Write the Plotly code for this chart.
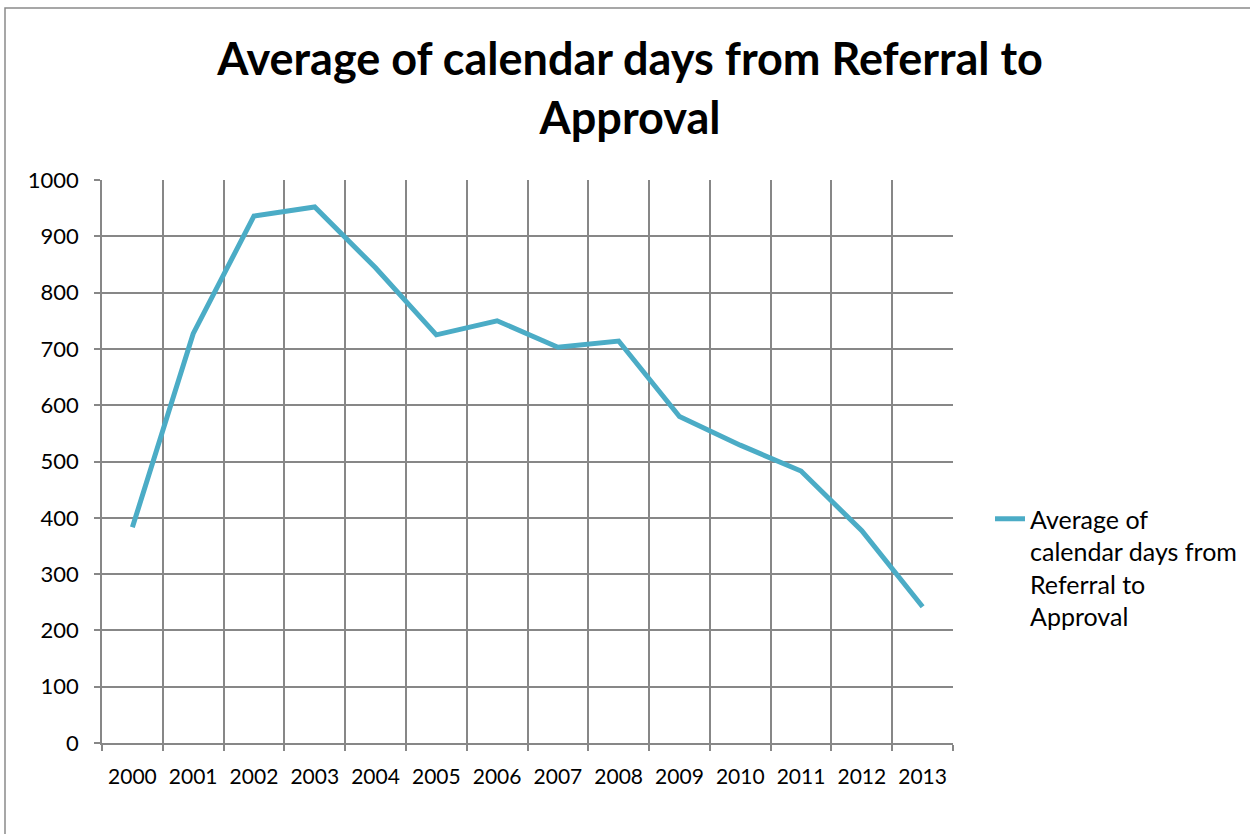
import plotly.graph_objects as go

years = ["2000", "2001", "2002", "2003", "2004", "2005", "2006", "2007",
         "2008", "2009", "2010", "2011", "2012", "2013"]
avg_days = [383, 727, 936, 952, 844, 725, 750, 703, 714, 580, 529, 483, 377, 242]
series_name = "Average of<br>calendar days from<br>Referral to<br>Approval"
title_text = "Average of calendar days from Referral to<br>Approval"

FONT = "Lato, Open Sans, sans-serif"
GRID = "#878787"

fig = go.Figure()
fig.add_trace(go.Scatter(
    x=years, y=avg_days, mode="lines", name=series_name,
    line=dict(color="#4BACC6", width=5), showlegend=True,
))

fig.update_layout(
    width=1250, height=834,
    margin=dict(l=102, r=297, t=180, b=91, autoexpand=False),
    paper_bgcolor="white", plot_bgcolor="white",
    font=dict(family=FONT, size=21, color="black"),
    title=dict(text=title_text, x=0.504, xanchor="center", y=0.91, yanchor="top",
               font=dict(family=FONT, size=45, color="black", weight="bold")),
    showlegend=True,
    legend=dict(x=1.0435, xanchor="left", y=0.4387, yanchor="top", valign="top",
                font=dict(family=FONT, size=25, color="black"),
                bgcolor="rgba(0,0,0,0)"),
    xaxis=dict(type="category", range=[-0.5, 13.5], tickson="boundaries",
               showgrid=True, gridcolor=GRID, gridwidth=1.5,
               ticks="outside", ticklen=6, tickcolor=GRID, tickwidth=1.5,
               showline=True, linecolor=GRID, linewidth=1.5,
               tickfont=dict(family=FONT, size=21, color="black"),
               ticklabelstandoff=14, zeroline=False),
    yaxis=dict(range=[0, 1000], dtick=100, showgrid=True, gridcolor=GRID, gridwidth=1.5,
               ticks="outside", ticklen=6, tickcolor=GRID, tickwidth=1.5,
               showline=True, linecolor=GRID, linewidth=1.5, mirror=False,
               tickfont=dict(family=FONT, size=22, color="black"),
               ticklabelstandoff=11, zeroline=False),
)

# outer chart border (partially out of view, as in reference)
fig.add_shape(type="rect", xref="paper", yref="paper",
              x0=(5 - 102) / 851, x1=1.6, y0=-0.5, y1=(743 - 8) / 563,
              line=dict(color="#8a8a8a", width=1.5), fillcolor="rgba(0,0,0,0)", layer="below")

fig.write_html("out.html", config={"displayModeBar": False},
               post_script="document.body.style.margin='0';")
